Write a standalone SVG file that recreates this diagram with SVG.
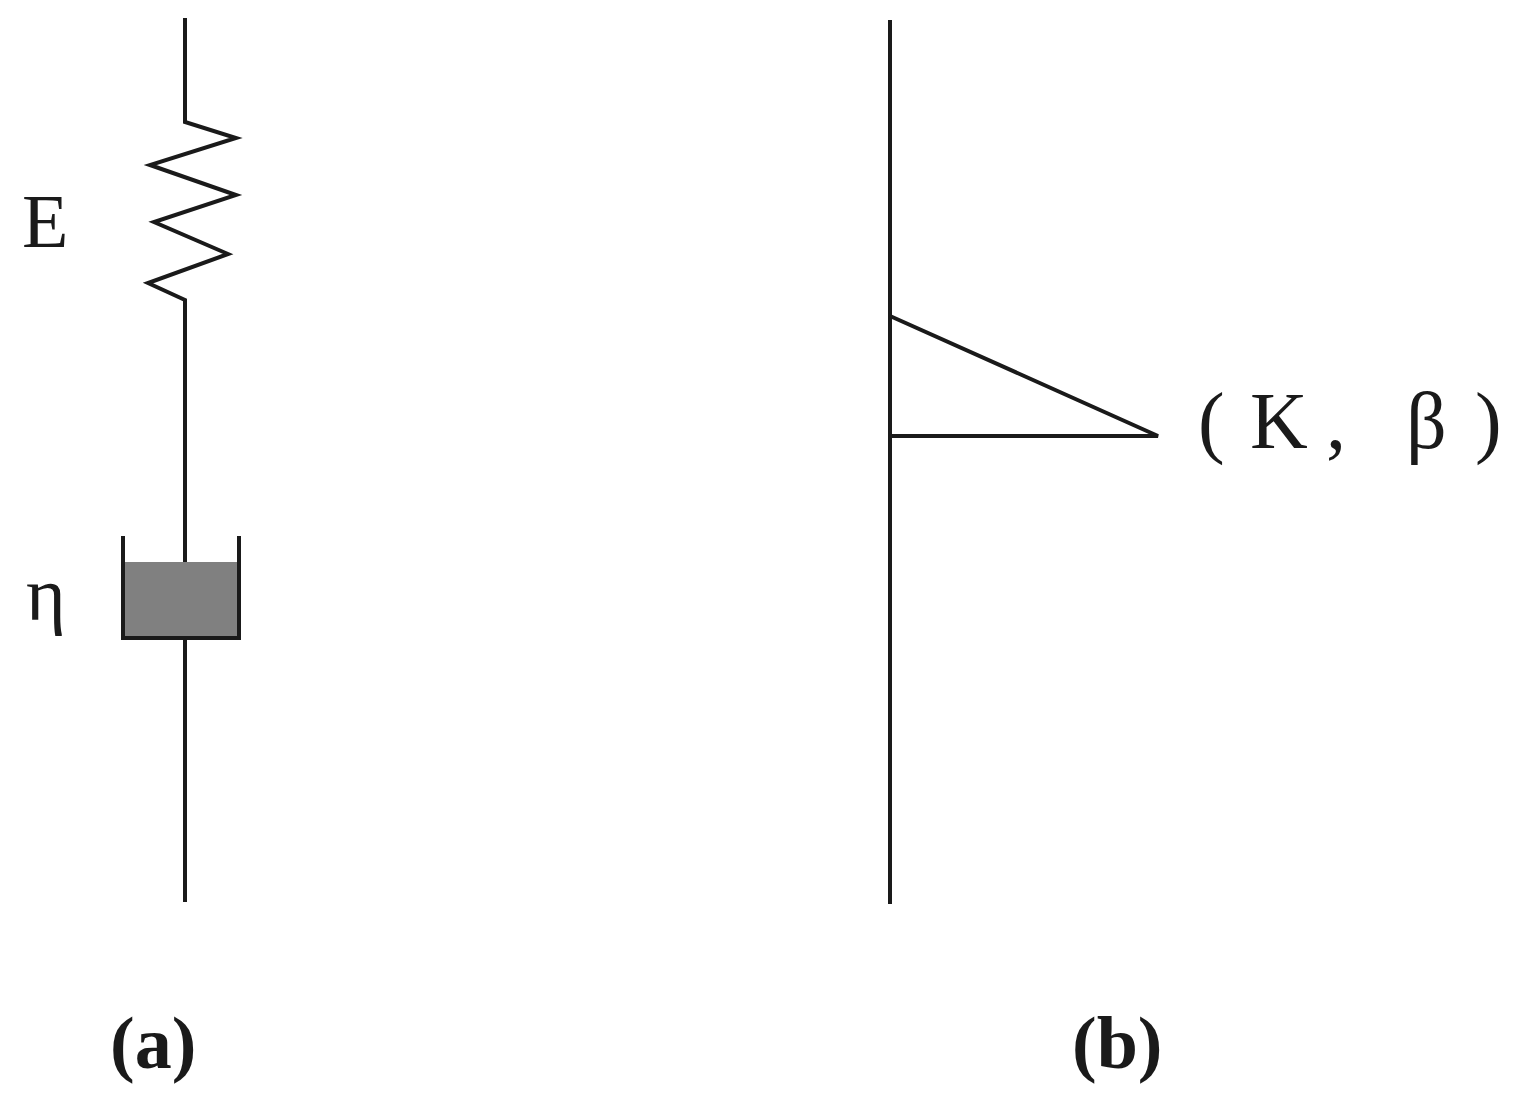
<svg xmlns="http://www.w3.org/2000/svg" width="1533" height="1096" viewBox="0 0 1533 1096">
<style>.l{stroke:#1a1a1a;stroke-width:4;fill:none}.t{font-family:"Liberation Serif",serif;fill:#1a1a1a}</style>
<rect width="1533" height="1096" fill="#fff"/>
<g id="a">
<path class="l" d="M185 18 V122 L236 138 L150 165 L236 195 L154 222 L228 254 L148 283 L185 300 V562"/>
<rect x="123" y="562" width="116" height="76" fill="#808080"/>
<path class="l" d="M123 536 V638 H239 V536"/>
<path class="l" d="M185 638 V902"/>
<text class="t" x="22" y="247" font-size="76">E</text>
<text class="t" x="26" y="620" font-size="76">η</text>
<text class="t" x="110" y="1068" font-size="74" font-weight="bold">(a)</text>
</g>
<g id="b">
<path class="l" d="M890 20 V904"/>
<path class="l" d="M890 316 L1158 436 H890"/>
<text class="t" y="448" font-size="80"><tspan x="1198">(</tspan><tspan x="1250">K</tspan><tspan x="1326">,</tspan><tspan x="1406">β</tspan><tspan x="1475">)</tspan></text>
<text class="t" x="1072" y="1068" font-size="74" font-weight="bold">(b)</text>
</g>
</svg>
